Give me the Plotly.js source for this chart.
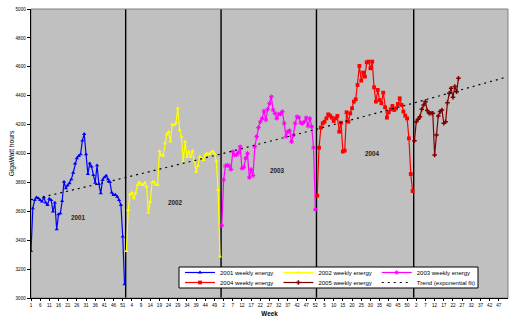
<!DOCTYPE html>
<html><head><meta charset="utf-8">
<script src="https://cdn.plot.ly/plotly-3.0.1.min.js"></script>
<style>html,body{margin:0;padding:0;background:#fff;}#chart{width:509px;height:320px;}</style>
</head><body><div id="chart"></div>
<script>
// ---- data (GigaWatt hours per week) ----
const seriesNames = ['2001 weekly energy','2002 weekly energy','2003 weekly energy','2004 weekly energy','2005 weekly energy'];
const yearWeeks = [52, 52, 52, 53, 52];
const energy2001 = [3325,3620,3678,3697,3690,3678,3667,3697,3660,3644,3687,3678,3598,3660,3475,3579,3586,3671,3805,3759,3780,3794,3821,3867,3930,3967,3983,3994,4089,4135,3994,3858,3932,3909,3851,3798,3918,3789,3724,3817,3835,3847,3821,3803,3729,3713,3715,3701,3678,3644,3425,3095];
const energy2002 = [3325,3609,3717,3729,3690,3724,3782,3800,3787,3782,3798,3771,3591,3667,3800,3805,3784,3782,4017,3987,3985,4070,4133,4149,4082,4202,4197,4209,4313,4163,4117,3944,4082,3978,4013,3978,4020,3950,3874,3914,3978,3967,3955,3990,4000,3995,4006,4017,4000,3948,3747,3286];
const energy2003 = [3501,3817,3914,3920,3914,3890,4013,3990,3990,4006,4047,3897,3904,3967,4001,3833,3890,3847,4047,4117,4179,4220,4243,4294,4232,4306,4347,4393,4301,4278,4243,4273,4273,4290,4209,4117,4151,4158,4082,4128,4209,4255,4250,4213,4209,4220,4248,4190,4243,4186,4040,3612];
const energy2004 = [3708,4040,4179,4209,4220,4243,4271,4262,4248,4225,4243,4260,4151,4213,4013,4020,4285,4220,4278,4313,4359,4375,4474,4606,4504,4560,4532,4631,4636,4590,4636,4458,4359,4440,4370,4347,4421,4320,4248,4285,4306,4329,4301,4313,4343,4382,4336,4290,4262,4243,4105,3858,3740];
const energy2005 = [4089,4220,4237,4255,4306,4336,4359,4297,4278,4278,4278,3990,4128,4260,4290,4301,4209,4220,4352,4417,4451,4389,4463,4428,4520];
const trendName = 'Trend (exponential fit)';
const trendWeekIndex = [1, 52, 104, 156, 209, 260];
const trendValues = [3680, 3832, 3995, 4166, 4347, 4528];
const yearLabels = ['2001','2002','2003','2004'];
const tickLabels = ['1','6','11','16','21','26','31','36','41','46','51','4','9','14','19','24','29','34','39','44','49','2','7','12','17','22','27','32','37','42','47','52','5','10','15','20','25','30','35','40','45','50','2','7','12','17','22','27','32','37','42','47'];

// ---- build ----
const allSeries = [energy2001, energy2002, energy2003, energy2004, energy2005];
const colors = ['#0000FF','#FFFF00','#FF00FF','#FF0000','#800000'];
const symbols = ['triangle-up','triangle-up','asterisk-open','square','cross'];
const legendOf = ['legend','legend','legend','legend2','legend2'];
const totalWeeks = yearWeeks.reduce((a,b)=>a+b,0);
const tickVals = tickLabels.map((_,i)=>1+5*i);

const traces = [];
let offset = 0;
const yearEnds = [];
allSeries.forEach((vals, k) => {
  const xs = vals.map((_, i) => offset + i + 1);
  traces.push({
    type: 'scatter', mode: 'lines+markers', name: seriesNames[k],
    x: xs, y: vals, legend: legendOf[k],
    line: {color: colors[k], width: 1.2},
    marker: {symbol: symbols[k], size: 3.8, color: colors[k], line: {color: colors[k], width: symbols[k]==='asterisk-open'?1:0}},
    hoverinfo: 'skip'
  });
  offset += yearWeeks[k];
  if (k < 4) yearEnds.push(offset);
});
traces.push({
  type: 'scatter', mode: 'lines', name: trendName, legend: 'legend2',
  x: trendWeekIndex, y: trendValues,
  line: {color: '#000', width: 1.2, dash: '2px,4px'}, hoverinfo: 'skip'
});

const px2x = p => (p - 31) / 477;
const py2y = p => (298 - p) / 289;

const shapes = yearEnds.map(w => ({
  type: 'line', xref: 'x', yref: 'paper', x0: w + 0.6, x1: w + 0.6, y0: 0, y1: 1,
  line: {color: '#000', width: 1.4}, layer: 'below'
}));
shapes.push({type:'rect', xref:'paper', yref:'paper', x0:0, x1:1, y0:0, y1:1,
  line:{color:'#808080', width:1}, fillcolor:'rgba(0,0,0,0)', layer:'below'});
shapes.push({type:'rect', xref:'paper', yref:'paper', x0:px2x(179), x1:px2x(478), y0:py2y(288), y1:py2y(267),
  line:{color:'#000', width:1}, fillcolor:'#fff', layer:'above'});

const yearPos = [[27.1,3556],[79.6,3660],[135.6,3884],[187.4,3999]];
const annotations = yearLabels.map((t,i)=>({
  text: '<b>'+t+'</b>', x: yearPos[i][0], y: yearPos[i][1], xref:'x', yref:'y',
  showarrow:false, font:{size:6.3, color:'#222'}
}));

const font = 'Arial, "Liberation Sans", sans-serif';
const legendCommon = {
  orientation:'h', bgcolor:'rgba(0,0,0,0)', borderwidth:0,
  font:{size:6.0, color:'#000', family: font},
  itemwidth:30, xanchor:'left', yanchor:'middle', itemclick:false, itemdoubleclick:false
};

const layout = {
  width: 509, height: 320,
  margin: {l:31, r:1, t:9, b:22, pad:0},
  paper_bgcolor:'#fff', plot_bgcolor:'#C0C0C0',
  font:{family: font, color:'#000'},
  showlegend: true,
  legend: Object.assign({}, legendCommon, {x: px2x(180), y: py2y(272.5)}),
  legend2: Object.assign({}, legendCommon, {x: px2x(180), y: py2y(282.5)}),
  xaxis: {range:[1, totalWeeks], tickmode:'array', tickvals: tickVals, ticktext: tickLabels,
    ticks:'outside', ticklen:2, tickcolor:'#000', tickwidth:1, showline:true, linecolor:'#000', linewidth:1.3,
    showgrid:false, zeroline:false, tickfont:{size:4.6, color:'#000'}, tickangle:0,
    title:{text:'<b>Week</b>', font:{size:6.3, color:'#000'}, standoff:4}},
  yaxis: {range:[3000,5000], tick0:3000, dtick:200, ticks:'outside', ticklen:3, tickcolor:'#000',
    showline:true, linecolor:'#000', linewidth:1.3, showgrid:false, zeroline:false,
    tickfont:{size:4.6, color:'#000'},
    title:{text:'GigaWatt hours', font:{size:6.6, color:'#000'}, standoff:0}},
  shapes: shapes, annotations: annotations
};
Plotly.newPlot('chart', traces, layout, {staticPlot:true, displayModeBar:false});
</script></body></html>
